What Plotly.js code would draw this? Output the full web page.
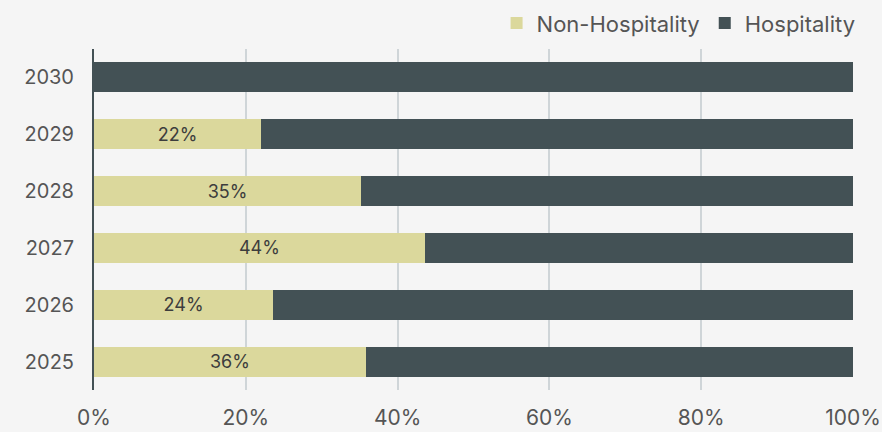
<!DOCTYPE html>
<html><head><meta charset="utf-8">
<script src="https://cdn.plot.ly/plotly-3.0.1.min.js"></script>
<style>html,body{margin:0;padding:0;background:#f5f5f5;}#chart{width:882px;height:432px;}</style>
</head><body><div id="chart"></div>
<script>
const years = ["2025","2026","2027","2028","2029","2030"];
const nonHospitality = [35.8, 23.6, 43.6, 35.2, 22.0, 0];
const hospitality = [64.2, 76.4, 56.4, 64.8, 78.0, 100];
const nonLabels = ["36%","24%","44%","35%","22%",""];
const xTickVals = [0,20,40,60,80,100];
const xTickText = ["0%","20%","40%","60%","80%","100%"];

const font = "Inter, 'Open Sans', sans-serif";
const traces = [
  {type:"bar", orientation:"h", name:"Non-Hospitality", y:years, x:nonHospitality,
   marker:{color:"#dbd89c"}, text:nonLabels, textposition:"inside", insidetextanchor:"middle",
   textfont:{family:font, size:18, color:"#3d3d3d"}, width:0.53, hoverinfo:"x+y"},
  {type:"bar", orientation:"h", name:"Hospitality", y:years, x:hospitality,
   marker:{color:"#435155"}, textposition:"none", width:0.53, hoverinfo:"x+y"}
];
const layout = {
  width:882, height:432, barmode:"stack",
  paper_bgcolor:"#f5f5f5", plot_bgcolor:"#f5f5f5",
  margin:{l:94, r:29, t:49, b:42, pad:0},
  font:{family:font, color:"#555555", size:19},
  showlegend:true,
  legend:{orientation:"h", x:1.01, xanchor:"right", y:0.995, yanchor:"top", yref:"container",
    traceorder:"normal", font:{size:22, color:"#555555"}, itemwidth:30, bgcolor:"rgba(0,0,0,0)"},
  xaxis:{range:[0,100], tickvals:xTickVals, ticktext:xTickText, showgrid:true, gridcolor:"#cfd5d8", gridwidth:2,
    zeroline:false, showline:false, ticks:"", ticklabelstandoff:13, tickfont:{size:21, color:"#555555"}, fixedrange:true},
  yaxis:{range:[-0.5,5.5], showgrid:false, zeroline:false, showline:true, linecolor:"#435155", linewidth:2,
    ticks:"", ticklabelstandoff:14, tickfont:{size:20, color:"#555555"}, fixedrange:true, type:"category"}
};
Plotly.newPlot("chart", traces, layout, {displayModeBar:false, staticPlot:true});
</script></body></html>
